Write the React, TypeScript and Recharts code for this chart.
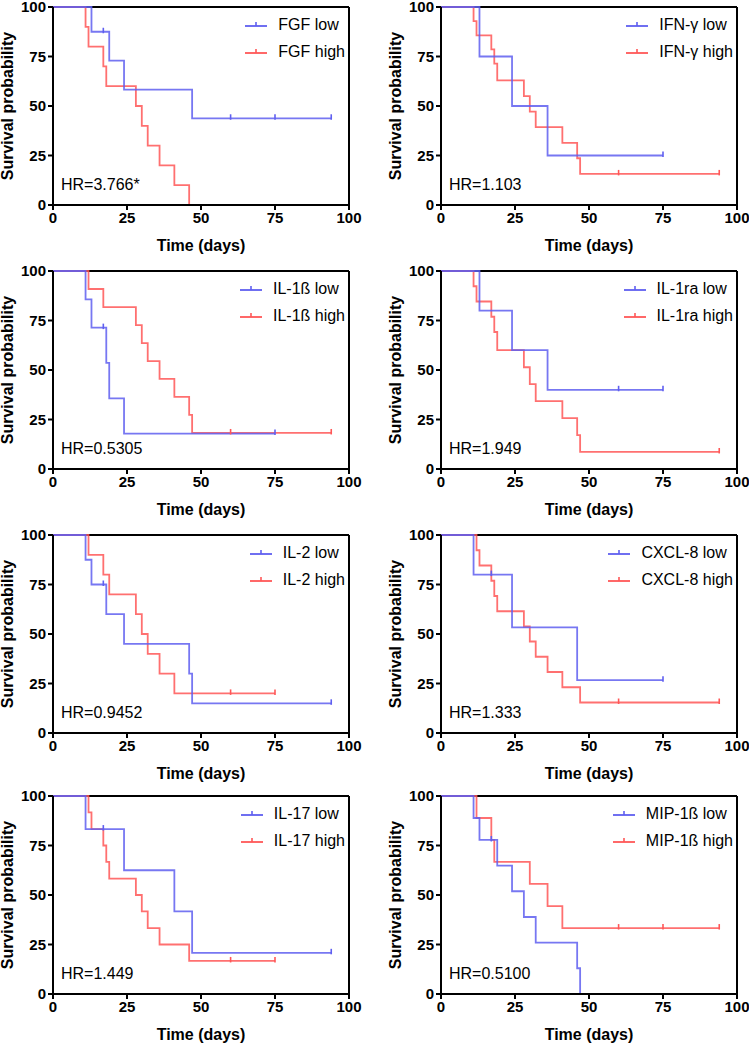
import { LineChart, Line, XAxis, YAxis, ReferenceLine } from 'recharts';

// Kaplan-Meier curves: event times (days), survival (%) after each event, censored times
const fgfLowT = [0, 13, 19, 24, 47];
const fgfLowS = [100, 87.5, 72.9, 58.3, 43.8];
const fgfLowC = [17, 60, 75, 94];
const fgfHighT = [0, 11, 12, 17, 18, 28, 30, 32, 36, 41, 46];
const fgfHighS = [100, 90, 80, 70, 60, 50, 40, 30, 20, 10, 0];
const fgfHighC: number[] = [];

const ifnLowT = [0, 13, 24, 36];
const ifnLowS = [100, 75, 50, 25];
const ifnLowC = [75];
const ifnHighT = [0, 11, 12, 17, 18, 19, 28, 30, 32, 41, 46, 47];
const ifnHighS = [100, 92.9, 85.7, 78.6, 71.4, 62.9, 55.0, 47.2, 39.3, 31.4, 23.6, 15.7];
const ifnHighC = [60, 94];

const il1bLowT = [0, 11, 13, 18, 19, 24];
const il1bLowS = [100, 85.7, 71.4, 53.6, 35.7, 17.9];
const il1bLowC = [17, 75];
const il1bHighT = [0, 12, 17, 28, 30, 32, 36, 41, 46, 47];
const il1bHighS = [100, 90.9, 81.8, 72.7, 63.6, 54.5, 45.5, 36.4, 27.3, 18.2];
const il1bHighC = [60, 94];

const il1raLowT = [0, 13, 24, 36];
const il1raLowS = [100, 80, 60, 40];
const il1raLowC = [60, 75];
const il1raHighT = [0, 11, 12, 17, 18, 19, 28, 30, 32, 41, 46, 47];
const il1raHighS = [100, 92.3, 84.6, 76.9, 69.2, 60.0, 51.4, 42.9, 34.3, 25.7, 17.1, 8.6];
const il1raHighC = [94];

const il2LowT = [0, 11, 13, 18, 24, 46, 47];
const il2LowS = [100, 87.5, 75, 60, 45, 30, 15];
const il2LowC = [17, 94];
const il2HighT = [0, 12, 17, 19, 28, 30, 32, 36, 41];
const il2HighS = [100, 90, 80, 70, 60, 50, 40, 30, 20];
const il2HighC = [60, 75];

const cxclLowT = [0, 11, 24, 46];
const cxclLowS = [100, 80, 53.3, 26.7];
const cxclLowC = [17, 75];
const cxclHighT = [0, 12, 13, 17, 18, 19, 28, 30, 32, 36, 41, 47];
const cxclHighS = [100, 92.3, 84.6, 76.9, 69.2, 61.5, 53.8, 46.2, 38.5, 30.8, 23.1, 15.4];
const cxclHighC = [60, 94];

const il17LowT = [0, 11, 24, 41, 47];
const il17LowS = [100, 83.3, 62.5, 41.7, 20.8];
const il17LowC = [17, 94];
const il17HighT = [0, 12, 13, 17, 18, 19, 28, 30, 32, 36, 46];
const il17HighS = [100, 91.7, 83.3, 75, 66.7, 58.3, 50, 41.7, 33.3, 25, 16.7];
const il17HighC = [60, 75];

const mipLowT = [0, 11, 13, 19, 24, 28, 32, 46, 47];
const mipLowS = [100, 88.9, 77.8, 64.8, 51.9, 38.9, 25.9, 13.0, 0];
const mipLowC = [17];
const mipHighT = [0, 12, 17, 18, 30, 36, 41];
const mipHighS = [100, 88.9, 77.8, 66.7, 55.6, 44.4, 33.3];
const mipHighC = [60, 75, 94];

const axisTicks = [0, 25, 50, 75, 100];

const LOW = '#5f5ff0';
const HIGH = '#ff5757';
const FONT = '"Liberation Sans", Arial, sans-serif';

type Pt = { t: number; s: number; c: boolean };

// merge events and censor marks into one step series
function curve(times: number[], surv: number[], cens: number[]): Pt[] {
  const pts: Pt[] = times.map((t, i) => ({ t, s: surv[i], c: false }));
  cens.forEach((ct) => {
    let s = surv[0];
    times.forEach((t, i) => {
      if (t <= ct) s = surv[i];
    });
    pts.push({ t: ct, s, c: true });
  });
  return pts.sort((a, b) => a.t - b.t);
}

const panels = [
  { name: 'FGF', hr: 'HR=3.766*', low: curve(fgfLowT, fgfLowS, fgfLowC), high: curve(fgfHighT, fgfHighS, fgfHighC) },
  { name: 'IFN-γ', hr: 'HR=1.103', low: curve(ifnLowT, ifnLowS, ifnLowC), high: curve(ifnHighT, ifnHighS, ifnHighC) },
  { name: 'IL-1ß', hr: 'HR=0.5305', low: curve(il1bLowT, il1bLowS, il1bLowC), high: curve(il1bHighT, il1bHighS, il1bHighC) },
  { name: 'IL-1ra', hr: 'HR=1.949', low: curve(il1raLowT, il1raLowS, il1raLowC), high: curve(il1raHighT, il1raHighS, il1raHighC) },
  { name: 'IL-2', hr: 'HR=0.9452', low: curve(il2LowT, il2LowS, il2LowC), high: curve(il2HighT, il2HighS, il2HighC) },
  { name: 'CXCL-8', hr: 'HR=1.333', low: curve(cxclLowT, cxclLowS, cxclLowC), high: curve(cxclHighT, cxclHighS, cxclHighC) },
  { name: 'IL-17', hr: 'HR=1.449', low: curve(il17LowT, il17LowS, il17LowC), high: curve(il17HighT, il17HighS, il17HighC) },
  { name: 'MIP-1ß', hr: 'HR=0.5100', low: curve(mipLowT, mipLowS, mipLowC), high: curve(mipHighT, mipHighS, mipHighC) },
];

// top edge of each row's plot box
const plotTops = [7, 271, 535, 796];
const PLOT_W = 296;
const PLOT_H = 198;
const PAD_TOP = 14;
const CHART_H = PAD_TOP + PLOT_H + 56;

const censorDot = (color: string) => (props: any) => {
  const { cx, cy, payload, index } = props;
  if (!payload || !payload.c) return <g key={`n-${index}`} />;
  return <line key={`c-${index}`} x1={cx} x2={cx} y1={cy - 4} y2={cy + 1.5} stroke={color} strokeWidth={1.6} />;
};

const LegendMark = ({ color }: { color: string }) => (
  <svg width={22} height={10} style={{ display: 'block' }}>
    <line x1={0} x2={22} y1={6} y2={6} stroke={color} strokeWidth={1.8} />
    <line x1={11} x2={11} y1={2} y2={6} stroke={color} strokeWidth={1.6} />
  </svg>
);

const Panel = ({ p, idx }: { p: (typeof panels)[number]; idx: number }) => {
  const col = idx % 2;
  const row = Math.floor(idx / 2);
  const left = col === 0 ? 0 : 375;
  const width = col === 0 ? 375 : 374;
  const yw = col === 0 ? 53 : 66;
  const tickStyle = { fill: '#000', fontSize: 15, fontWeight: 'bold', fontFamily: FONT };

  return (
    <div style={{ position: 'absolute', left, top: plotTops[row] - PAD_TOP, width, height: CHART_H, fontFamily: FONT }}>
      <LineChart width={width} height={CHART_H} margin={{ top: PAD_TOP, right: width - yw - PLOT_W, bottom: 26, left: 0 }}>
        <XAxis
          type="number"
          dataKey="t"
          domain={[0, 100]}
          ticks={axisTicks}
          height={30}
          tickSize={5}
          tickMargin={2}
          tick={tickStyle}
          axisLine={{ stroke: '#000', strokeWidth: 2 }}
          tickLine={{ stroke: '#000', strokeWidth: 2 }}
          interval={0}
        />
        <YAxis
          type="number"
          domain={[0, 100]}
          ticks={axisTicks}
          width={yw}
          tickSize={5}
          tickMargin={2}
          tick={tickStyle}
          axisLine={{ stroke: '#000', strokeWidth: 2 }}
          tickLine={{ stroke: '#000', strokeWidth: 2 }}
          interval={0}
        />
        <ReferenceLine y={100} stroke="#000" strokeWidth={2} />
        <ReferenceLine x={100} stroke="#000" strokeWidth={2} />
        <Line
          data={p.high}
          dataKey="s"
          type="stepAfter"
          stroke={HIGH}
          strokeWidth={1.8}
          strokeOpacity={0.85}
          dot={censorDot(HIGH)}
          activeDot={false}
          isAnimationActive={false}
        />
        <Line
          data={p.low}
          dataKey="s"
          type="stepAfter"
          stroke={LOW}
          strokeWidth={1.8}
          strokeOpacity={0.85}
          dot={censorDot(LOW)}
          activeDot={false}
          isAnimationActive={false}
        />
      </LineChart>

      {/* legend, right-aligned in the plot */}
      <div style={{ position: 'absolute', right: width - (yw + PLOT_W) + 4, top: PAD_TOP + 4 }}>
        {[
          { label: `${p.name} low`, color: LOW },
          { label: `${p.name} high`, color: HIGH },
        ].map((e) => (
          <div key={e.label} style={{ display: 'flex', alignItems: 'center', height: 27, fontSize: 16, lineHeight: '18px' }}>
            <LegendMark color={e.color} />
            <span style={{ marginLeft: 11, whiteSpace: 'nowrap' }}>{e.label}</span>
          </div>
        ))}
      </div>

      {/* hazard ratio */}
      <div style={{ position: 'absolute', left: yw + 8, top: PAD_TOP + PLOT_H - 30, fontSize: 16, lineHeight: '20px' }}>{p.hr}</div>

      {/* axis titles */}
      <div
        style={{
          position: 'absolute',
          left: yw + PLOT_W / 2,
          top: PAD_TOP + PLOT_H + 41,
          transform: 'translate(-50%, -50%)',
          fontSize: 16,
          fontWeight: 'bold',
          whiteSpace: 'nowrap',
        }}
      >
        Time (days)
      </div>
      <div
        style={{
          position: 'absolute',
          left: yw - 45,
          top: PAD_TOP + PLOT_H / 2,
          transform: 'translate(-50%, -50%) rotate(-90deg)',
          fontSize: 16,
          fontWeight: 'bold',
          whiteSpace: 'nowrap',
        }}
      >
        Survival probability
      </div>
    </div>
  );
};

export default function App() {
  return (
    <div style={{ position: 'absolute', left: 0, top: 0, width: 749, height: 1043, background: '#fff', overflow: 'hidden' }}>
      {panels.map((p, i) => (
        <Panel key={p.name} p={p} idx={i} />
      ))}
    </div>
  );
}
